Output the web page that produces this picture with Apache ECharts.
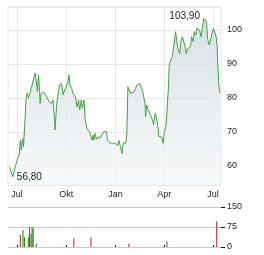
<!DOCTYPE html>
<html>
<head>
<meta charset="utf-8">
<script src="https://cdn.jsdelivr.net/npm/echarts@6/dist/echarts.min.js"></script>
<style>html,body{margin:0;padding:0;background:#fff}#c{width:264px;height:255px}</style>
</head>
<body>
<div id="c"></div>
<script>
// ---- data ----
var priceDates = [
'2023-06-17','2023-06-20','2023-06-23','2023-06-26','2023-06-29','2023-07-02','2023-07-05','2023-07-07','2023-07-09','2023-07-11',
'2023-07-13','2023-07-16','2023-07-18','2023-07-20','2023-07-22','2023-07-24','2023-07-27','2023-07-29','2023-07-31','2023-08-02',
'2023-08-04','2023-08-06','2023-08-08','2023-08-10','2023-08-12','2023-08-13','2023-08-15','2023-08-19','2023-08-22','2023-08-25',
'2023-08-27','2023-08-30','2023-09-02','2023-09-04','2023-09-06','2023-09-09','2023-09-10','2023-09-13','2023-09-15','2023-09-18',
'2023-09-21','2023-09-22','2023-09-25','2023-09-28','2023-10-01','2023-10-04','2023-10-06','2023-10-08','2023-10-11','2023-10-13',
'2023-10-16','2023-10-18','2023-10-21','2023-10-24','2023-10-26','2023-10-29','2023-10-31','2023-11-03','2023-11-05','2023-11-08',
'2023-11-10','2023-11-13','2023-11-15','2023-11-18','2023-11-20','2023-11-21','2023-11-24','2023-11-26','2023-11-29','2023-12-03',
'2023-12-06','2023-12-10','2023-12-12','2023-12-15','2023-12-17','2023-12-20','2023-12-22','2023-12-26','2023-12-31','2024-01-03',
'2024-01-05','2024-01-07','2024-01-10','2024-01-13','2024-01-15','2024-01-17','2024-01-20','2024-01-22','2024-01-24','2024-01-26',
'2024-01-29','2024-01-31','2024-02-05','2024-02-07','2024-02-10','2024-02-12','2024-02-15','2024-02-17','2024-02-20','2024-02-22',
'2024-02-25','2024-02-26','2024-02-28','2024-03-02','2024-03-05','2024-03-07','2024-03-10','2024-03-12','2024-03-15','2024-03-17',
'2024-03-20','2024-03-22','2024-03-25','2024-03-27','2024-03-30','2024-04-01','2024-04-04','2024-04-06','2024-04-07','2024-04-09',
'2024-04-10','2024-04-11','2024-04-13','2024-04-16','2024-04-19','2024-04-21','2024-04-22','2024-04-25','2024-04-27','2024-04-30',
'2024-05-02','2024-05-05','2024-05-07','2024-05-10','2024-05-12','2024-05-15','2024-05-17','2024-05-20','2024-05-22','2024-05-25',
'2024-05-27','2024-05-30','2024-06-01','2024-06-04','2024-06-06','2024-06-09','2024-06-11','2024-06-14','2024-06-16','2024-06-19',
'2024-06-21','2024-06-24','2024-06-26','2024-06-29','2024-07-02','2024-07-04','2024-07-07','2024-07-09','2024-07-10','2024-07-12',
'2024-07-14'
];
var priceValues = [
59.6,59.3,56.8,58.8,59.3,62.3,63.2,67.6,64.7,68.1,
65.7,74.5,80.4,81.4,79.9,80.9,80.9,83.8,83.3,86.3,
87.3,87.7,81.9,86.8,81.9,78.4,81.4,81.9,82.4,80.4,
80.4,78.9,79.4,78.4,79.4,74.0,70.6,78.4,80.4,83.8,
83.8,84.3,80.9,82.4,83.3,84.8,86.8,83.8,82.8,81.4,
81.9,80.4,77.4,79.4,76.5,79.4,77.0,79.4,74.0,71.1,
71.1,70.1,69.6,67.6,69.1,67.6,69.6,67.8,68.6,68.1,
69.1,70.1,70.6,70.1,67.6,68.1,66.7,66.7,66.7,66.2,
66.0,67.6,65.7,63.7,66.7,66.2,66.7,69.1,83.3,83.8,
81.4,81.9,81.9,82.8,83.8,83.3,84.3,83.8,82.4,82.4,
78.4,74.5,77.9,76.5,75.5,75.0,73.5,72.1,75.5,74.5,
71.6,68.6,68.1,68.6,66.7,70.1,71.6,75.5,78.9,83.3,
89.2,90.2,91.2,92.2,92.6,98.0,99.5,99.0,94.1,93.1,
96.6,98.0,97.5,95.1,93.1,94.6,94.6,95.1,98.0,96.6,
99.5,98.5,100.5,101.0,100.0,98.0,100.5,103.4,103.9,102.4,
97.5,95.6,96.6,99.0,100.5,100.0,98.0,95.1,89.7,83.8,
81.4
];
var volDates = ['2023-07-07','2023-07-12','2023-07-15','2023-07-22','2023-07-24','2023-07-27','2023-07-29','2023-07-31','2023-08-06','2023-10-15','2023-11-16','2024-01-26','2024-04-06','2024-07-08'];
var volValues = [45,64,37,37,75,49,75,70,12,33,37,12,21,97];
var volUp = [false,true,true,true,true,false,true,true,true,false,false,false,true,false];
var monthNames = ['Jan','Feb','Mär','Apr','Mai','Jun','Jul','Aug','Sep','Okt','Nov','Dez'];
var axisStart = '2023-06-14', axisEnd = '2024-07-16';
var priceTicks = [60,70,80,90,100];
var volTicks = [0,75,150];

// ---- build category days ----
var days = [];
(function(){
  var d = new Date(axisStart + 'T00:00:00Z'), e = new Date(axisEnd + 'T00:00:00Z');
  while (d <= e) { days.push(d.toISOString().slice(0,10)); d = new Date(d.getTime() + 86400000); }
})();
function isQuarter(idx, val) {
  var m = val.slice(5,7);
  return val.slice(8,10) === '01' && (m === '01' || m === '04' || m === '07' || m === '10');
}
var font = 'Liberation Sans, Arial, sans-serif';
var priceData = priceDates.map(function(d,i){ return [d, priceValues[i]]; });
var volData = volDates.map(function(d,i){
  return { value: [d, volValues[i]], itemStyle: { color: volUp[i] ? '#008a00' : '#b0202a' } };
});
function fmt(v){ return v.toFixed(2).replace('.', ','); }

var chart = echarts.init(document.getElementById('c'), null, {renderer:'canvas'});
chart.setOption({
  animation: false,
  backgroundColor: '#ffffff',
  grid: [
    { left: 8, top: 7, width: 213, height: 178, show: true, borderColor: '#e4e4e4', borderWidth: 1, backgroundColor: 'transparent' },
    { left: 8, top: 207, width: 213, height: 40 }
  ],
  xAxis: [
    { type: 'category', gridIndex: 0, data: days, boundaryGap: false,
      axisLine: { show: false }, axisTick: { show: false },
      axisLabel: { interval: isQuarter, margin: 5, fontSize: 9, color: '#222', fontFamily: font,
        formatter: function(v){ return monthNames[parseInt(v.slice(5,7),10)-1]; } },
      splitLine: { show: true, interval: isQuarter, lineStyle: { color: '#e8e8e8', width: 1 } } },
    { type: 'category', gridIndex: 1, data: days, boundaryGap: false, position: 'top',
      axisLine: { show: false },
      axisTick: { show: true, interval: isQuarter, length: 2, inside: false, lineStyle: { color: '#111', width: 1 } },
      axisLabel: { show: false }, splitLine: { show: false } }
  ],
  yAxis: [
    { type: 'value', gridIndex: 0, position: 'right', min: 54.41, max: 106.76,
      axisLine: { show: false }, axisTick: { show: false },
      axisLabel: { margin: 6, fontSize: 9, color: '#222', fontFamily: font,
        formatter: function(v){ return priceTicks.indexOf(Math.round(v*100)/100) >= 0 ? String(v) : ''; } },
      splitLine: { show: true, lineStyle: { color: '#e8e8e8', width: 1 } } },
    { type: 'value', gridIndex: 1, position: 'right', min: 0, max: 150, interval: 75,
      axisLine: { show: false },
      axisTick: { show: true, length: 4, lineStyle: { color: '#111', width: 1 } },
      axisLabel: { margin: 6, fontSize: 9, color: '#222', fontFamily: font,
        formatter: function(v){ return volTicks.indexOf(v) >= 0 ? String(v) : ''; } },
      splitLine: { show: true, lineStyle: { color: '#c8c8c8', width: 1 } } }
  ],
  series: [
    { type: 'line', xAxisIndex: 0, yAxisIndex: 0, data: priceData, showSymbol: false, symbol: 'none',
      lineStyle: { color: '#45a045', width: 1 },
      areaStyle: { color: new echarts.graphic.LinearGradient(0,0,0,1,[{offset:0,color:'#c8d2da'},{offset:1,color:'#f6f8f9'}]) },
      markPoint: { symbol: 'circle', symbolSize: 0,
        label: { show: true, fontSize: 10, color: '#1a1a2a', fontFamily: font,
          formatter: function(p){ return fmt(p.value); } },
        data: [
          { type: 'max', label: { position: 'left', distance: 5 } },
          { type: 'min', label: { position: 'right', distance: 4 } }
        ] } },
    { type: 'bar', xAxisIndex: 1, yAxisIndex: 1, data: volData, barWidth: 1 }
  ]
});
</script>
</body>
</html>
